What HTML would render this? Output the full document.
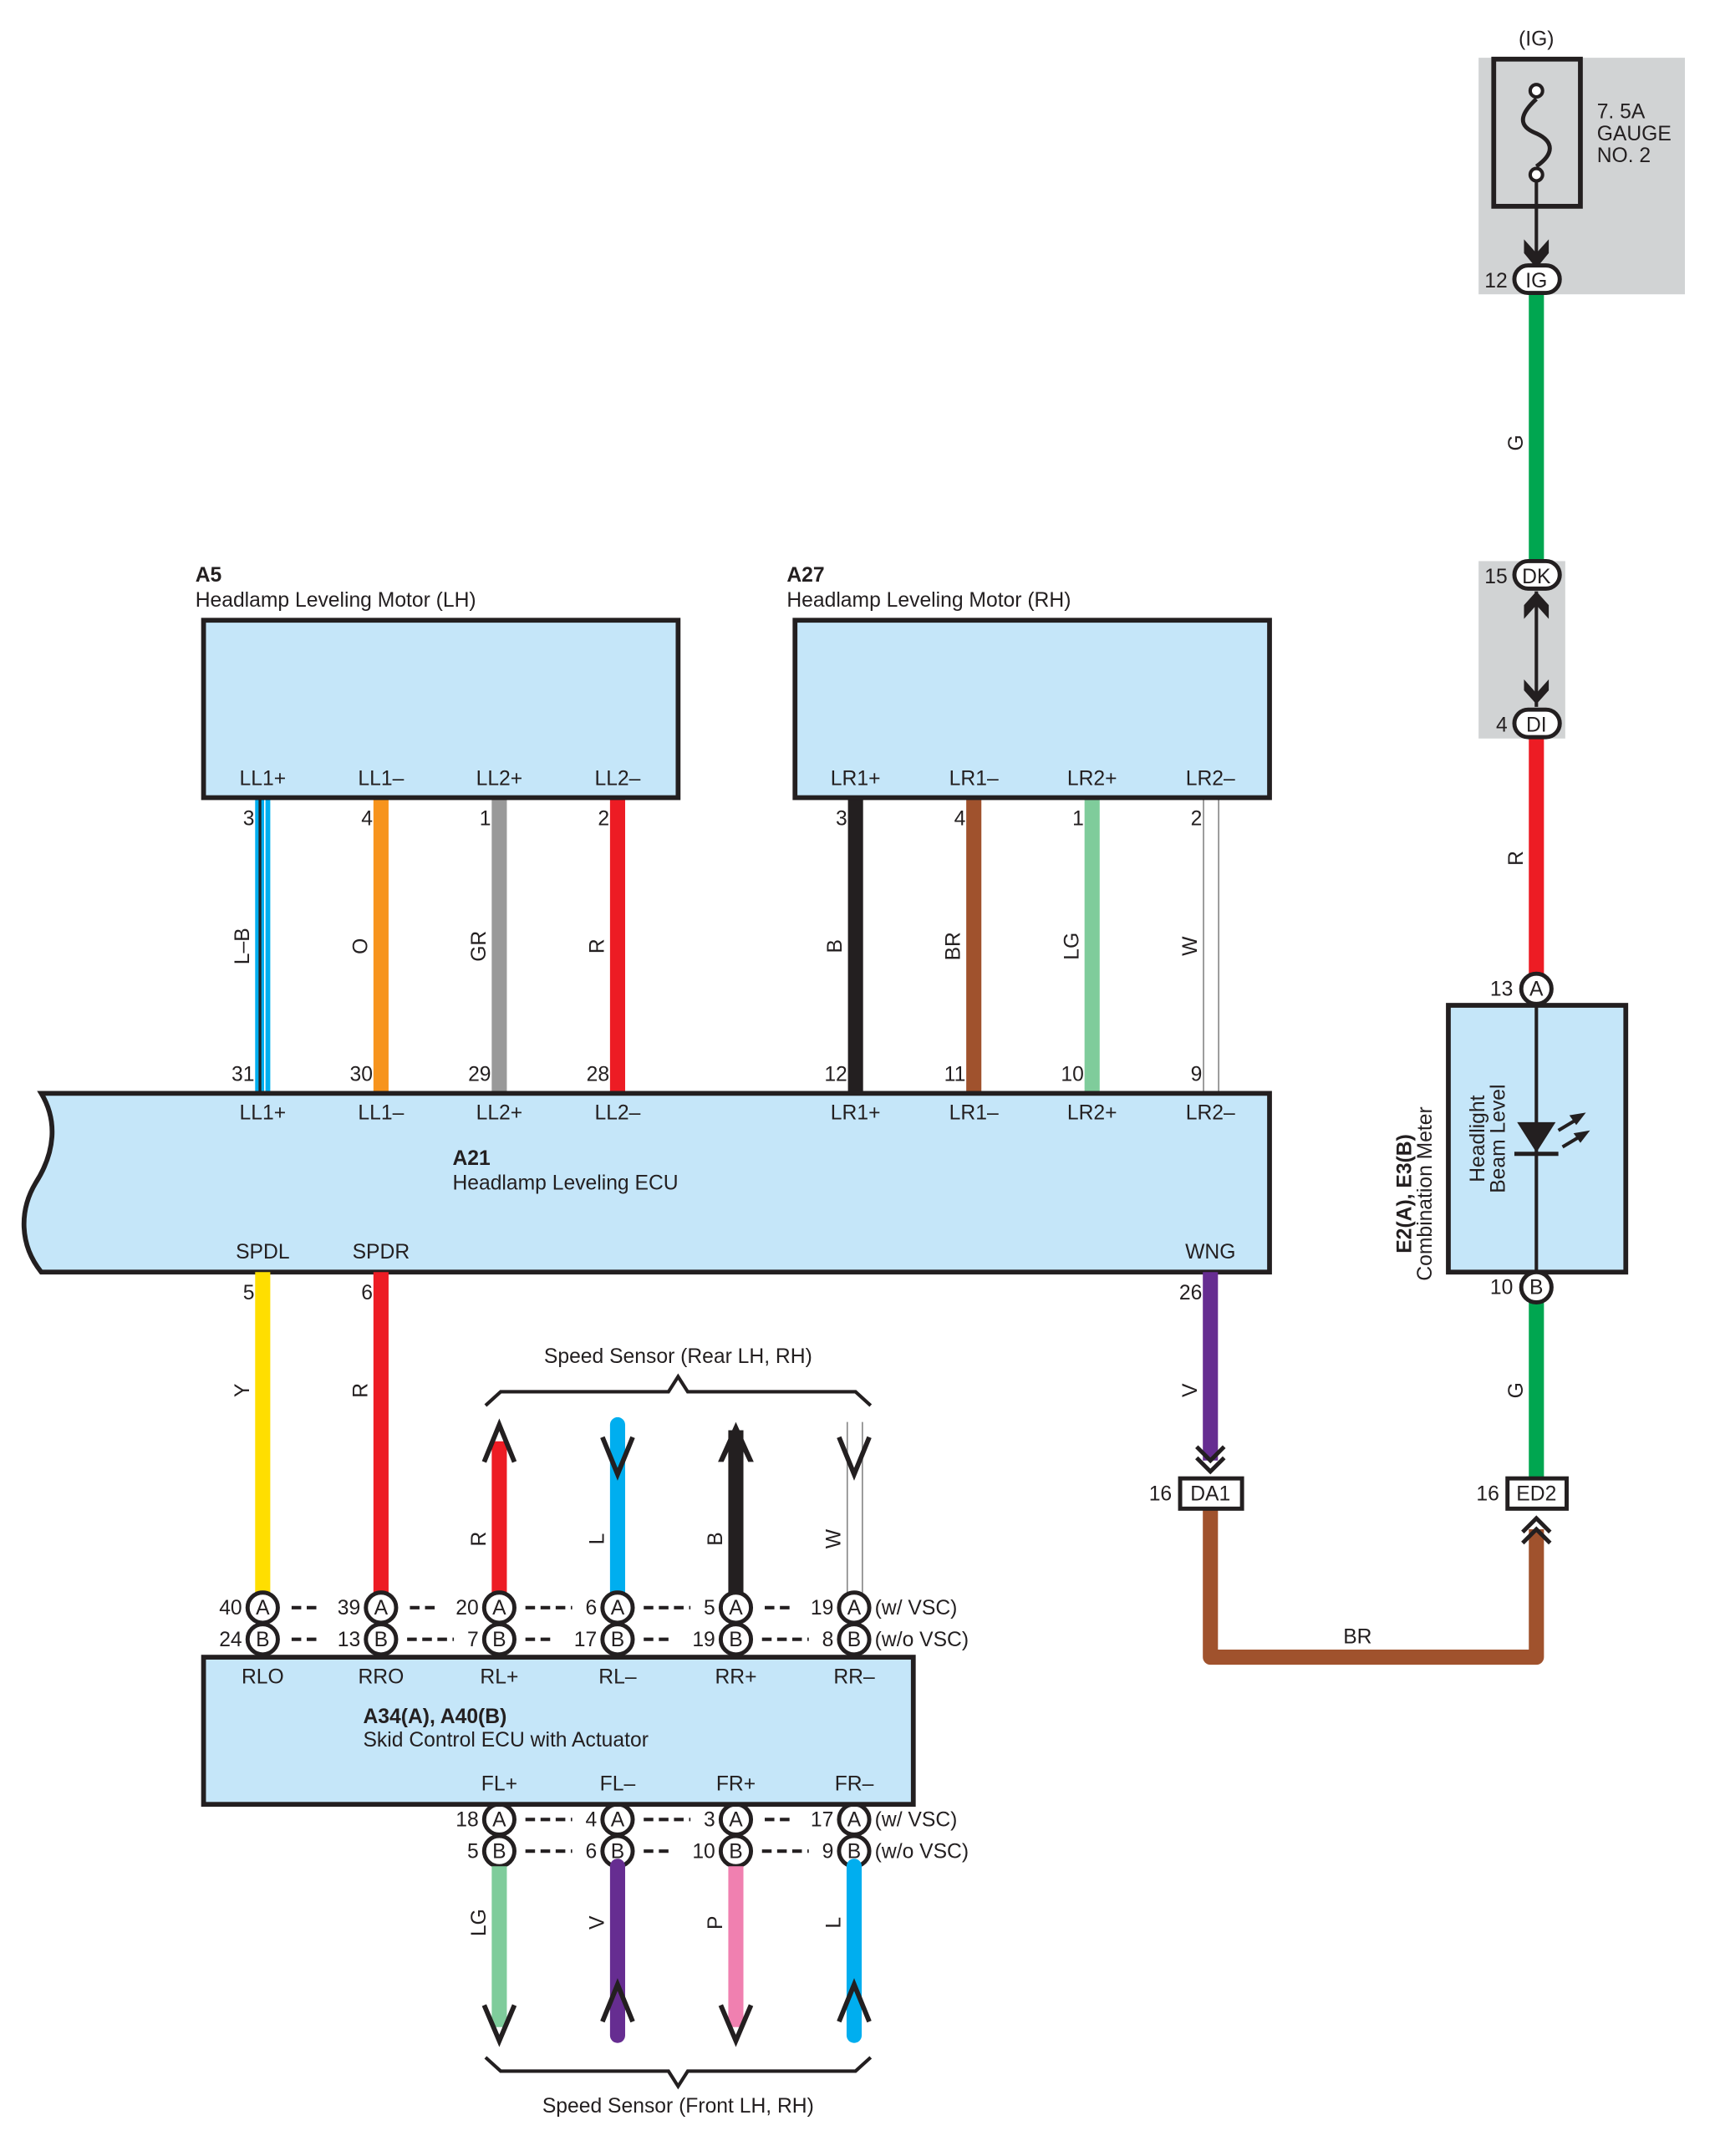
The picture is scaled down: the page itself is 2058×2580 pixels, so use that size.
<!DOCTYPE html>
<html><head><meta charset="utf-8"><style>html,body{margin:0;padding:0;background:#fff}svg{display:block}</style></head><body>
<svg width="2058" height="2580" viewBox="0 0 1250.5 1567.7" preserveAspectRatio="none" xmlns="http://www.w3.org/2000/svg" font-family="Liberation Sans, sans-serif" font-size="15" fill="#231f20">
<rect x="1075" y="42" width="150" height="172" fill="#d1d3d4"/>
<rect x="1075" y="408" width="63" height="129" fill="#d1d3d4"/>
<line x1="1117" y1="213" x2="1117" y2="408" stroke="#00a650" stroke-width="11"/>
<line x1="1117" y1="537" x2="1117" y2="708" stroke="#ed1c24" stroke-width="11"/>
<line x1="1117" y1="947" x2="1117" y2="1075" stroke="#00a650" stroke-width="11"/>
<polyline points="880,1097 880,1205 1117,1205 1117,1112" fill="none" stroke="#a0522d" stroke-width="11" stroke-linejoin="round"/>
<text x="1117" y="33" text-anchor="middle">(IG)</text>
<rect x="1086" y="43" width="63" height="107" fill="none" stroke="#231f20" stroke-width="3.5"/>
<path d="M1117,72 C1104,84 1104,92 1117,97 C1130,103 1130,112 1117,121" fill="none" stroke="#231f20" stroke-width="3"/>
<circle cx="1117" cy="66" r="4.5" fill="#fff" stroke="#231f20" stroke-width="2.5"/>
<circle cx="1117" cy="127" r="4.5" fill="#fff" stroke="#231f20" stroke-width="2.5"/>
<line x1="1117" y1="131" x2="1117" y2="190" stroke="#231f20" stroke-width="2.5"/>
<polygon points="1108,174 1117,184 1126,174 1126,184 1117,195 1108,184"/>
<text x="1161" y="86">7. 5A</text><text x="1161" y="102">GAUGE</text><text x="1161" y="118">NO. 2</text>
<rect x="1101" y="193" width="33" height="20" rx="10" fill="#fff" stroke="#231f20" stroke-width="3"/>
<text x="1117" y="209" text-anchor="middle">IG</text><text x="1096" y="209" text-anchor="end">12</text>
<text transform="translate(1107,322) rotate(-90)" text-anchor="middle">G</text>
<rect x="1101" y="408" width="33" height="20" rx="10" fill="#fff" stroke="#231f20" stroke-width="3"/>
<text x="1117" y="424" text-anchor="middle">DK</text><text x="1096" y="424" text-anchor="end">15</text>
<line x1="1117" y1="430" x2="1117" y2="514" stroke="#231f20" stroke-width="2.5"/>
<polygon points="1108,440 1117,430 1126,440 1126,450 1117,440 1108,450"/>
<polygon points="1108,502 1117,512 1126,502 1126,494 1117,504 1108,494"/>
<rect x="1101" y="516" width="33" height="20" rx="10" fill="#fff" stroke="#231f20" stroke-width="3"/>
<text x="1117" y="532" text-anchor="middle">DI</text><text x="1096" y="532" text-anchor="end">4</text>
<text transform="translate(1107,624) rotate(-90)" text-anchor="middle">R</text>
<rect x="1053" y="731" width="129" height="194" fill="#c5e6f9" stroke="#231f20" stroke-width="3.5"/>
<line x1="1117" y1="731" x2="1117" y2="925" stroke="#231f20" stroke-width="2.5"/>
<polygon points="1103,816 1131,816 1117,838"/>
<line x1="1101" y1="839" x2="1133" y2="839" stroke="#231f20" stroke-width="3"/>
<line x1="1133" y1="822" x2="1148" y2="813" stroke="#231f20" stroke-width="2.5"/><polygon points="1153,809 1141,811 1146,818"/>
<line x1="1136" y1="834" x2="1151" y2="825" stroke="#231f20" stroke-width="2.5"/><polygon points="1156,822 1144,824 1149,831"/>
<text transform="translate(1079,828) rotate(-90)" text-anchor="middle"><tspan x="0" dy="0">Headlight</tspan><tspan x="0" dy="15">Beam Level</tspan></text>
<text transform="translate(1026,868) rotate(-90)" text-anchor="middle"><tspan x="0" font-weight="bold">E2(A), E3(B)</tspan><tspan x="0" dy="15">Combination Meter</tspan></text>
<circle cx="1117" cy="719" r="11" fill="#fff" stroke="#231f20" stroke-width="3"/><text x="1117" y="724" text-anchor="middle">A</text><text x="1100" y="724" text-anchor="end">13</text>
<circle cx="1117" cy="936" r="11" fill="#fff" stroke="#231f20" stroke-width="3"/><text x="1117" y="941" text-anchor="middle">B</text><text x="1100" y="941" text-anchor="end">10</text>
<text transform="translate(1107,1011) rotate(-90)" text-anchor="middle">G</text>
<rect x="1096" y="1075" width="43" height="22" fill="#fff" stroke="#231f20" stroke-width="3"/><text x="1117" y="1091" text-anchor="middle">ED2</text><text x="1090" y="1091" text-anchor="end">16</text>
<polyline points="1107,1114 1117,1104 1127,1114" fill="none" stroke="#231f20" stroke-width="3"/>
<polyline points="1107,1122 1117,1112 1127,1122" fill="none" stroke="#231f20" stroke-width="3"/>
<text x="987" y="1195" text-anchor="middle">BR</text>
<line x1="191" y1="580" x2="191" y2="795" stroke="#00aeef" stroke-width="11"/><line x1="189" y1="580" x2="189" y2="795" stroke="#231f20" stroke-width="2"/><line x1="192.5" y1="580" x2="192.5" y2="795" stroke="#fff" stroke-width="1"/>
<line x1="277" y1="580" x2="277" y2="795" stroke="#f7941d" stroke-width="11"/>
<line x1="363" y1="580" x2="363" y2="795" stroke="#999" stroke-width="11"/>
<line x1="449" y1="580" x2="449" y2="795" stroke="#ed1c24" stroke-width="11"/>
<line x1="622" y1="580" x2="622" y2="795" stroke="#231f20" stroke-width="11"/>
<line x1="708" y1="580" x2="708" y2="795" stroke="#a0522d" stroke-width="11"/>
<line x1="794" y1="580" x2="794" y2="795" stroke="#7fcc9b" stroke-width="11"/>
<line x1="875" y1="580" x2="875" y2="795" stroke="#888" stroke-width="1"/><line x1="886" y1="580" x2="886" y2="795" stroke="#888" stroke-width="1"/>
<g text-anchor="end">
<text x="185" y="600">3</text><text x="271" y="600">4</text><text x="357" y="600">1</text><text x="443" y="600">2</text>
<text x="616" y="600">3</text><text x="702" y="600">4</text><text x="788" y="600">1</text><text x="874" y="600">2</text>
<text x="185" y="786">31</text><text x="271" y="786">30</text><text x="357" y="786">29</text><text x="443" y="786">28</text>
<text x="616" y="786">12</text><text x="702" y="786">11</text><text x="788" y="786">10</text><text x="874" y="786">9</text>
<text x="185" y="945">5</text><text x="271" y="945">6</text><text x="874" y="945">26</text>
</g>
<g text-anchor="middle">
<text transform="translate(181,688) rotate(-90)">L–B</text><text transform="translate(267,688) rotate(-90)">O</text>
<text transform="translate(353,688) rotate(-90)">GR</text><text transform="translate(439,688) rotate(-90)">R</text>
<text transform="translate(612,688) rotate(-90)">B</text><text transform="translate(698,688) rotate(-90)">BR</text>
<text transform="translate(784,688) rotate(-90)">LG</text><text transform="translate(870,688) rotate(-90)">W</text>
</g>
<rect x="148" y="451" width="345" height="129" fill="#c5e6f9" stroke="#231f20" stroke-width="3.5"/>
<rect x="578" y="451" width="345" height="129" fill="#c5e6f9" stroke="#231f20" stroke-width="3.5"/>
<text x="142" y="423" font-weight="bold">A5</text><text x="142" y="441">Headlamp Leveling Motor (LH)</text>
<text x="572" y="423" font-weight="bold">A27</text><text x="572" y="441">Headlamp Leveling Motor (RH)</text>
<g text-anchor="middle">
<text x="191" y="571">LL1+</text><text x="277" y="571">LL1–</text><text x="363" y="571">LL2+</text><text x="449" y="571">LL2–</text>
<text x="622" y="571">LR1+</text><text x="708" y="571">LR1–</text><text x="794" y="571">LR2+</text><text x="880" y="571">LR2–</text>
</g>
<path d="M30,795 L923,795 L923,925 L30,925 C14,905 14,880 26,860 C40,838 42,815 30,795 Z" fill="#c5e6f9" stroke="#231f20" stroke-width="3.5"/>
<g text-anchor="middle">
<text x="191" y="814">LL1+</text><text x="277" y="814">LL1–</text><text x="363" y="814">LL2+</text><text x="449" y="814">LL2–</text>
<text x="622" y="814">LR1+</text><text x="708" y="814">LR1–</text><text x="794" y="814">LR2+</text><text x="880" y="814">LR2–</text>
<text x="191" y="915">SPDL</text><text x="277" y="915">SPDR</text><text x="880" y="915">WNG</text>
</g>
<text x="329" y="847" font-weight="bold">A21</text><text x="329" y="865">Headlamp Leveling ECU</text>
<line x1="191" y1="925" x2="191" y2="1160" stroke="#ffde00" stroke-width="11"/>
<line x1="277" y1="925" x2="277" y2="1160" stroke="#ed1c24" stroke-width="11"/>
<line x1="880" y1="925" x2="880" y2="1062" stroke="#662d91" stroke-width="11"/>
<polyline points="870,1052 880,1062 890,1052" fill="none" stroke="#231f20" stroke-width="3"/>
<polyline points="870,1060 880,1070 890,1060" fill="none" stroke="#231f20" stroke-width="3"/>
<rect x="858" y="1075" width="45" height="22" fill="#fff" stroke="#231f20" stroke-width="3"/><text x="880" y="1091" text-anchor="middle">DA1</text><text x="852" y="1091" text-anchor="end">16</text>
<text transform="translate(870,1011) rotate(-90)" text-anchor="middle">V</text>
<text transform="translate(181,1011) rotate(-90)" text-anchor="middle">Y</text>
<text transform="translate(267,1011) rotate(-90)" text-anchor="middle">R</text>
<line x1="363" y1="1048" x2="363" y2="1160" stroke="#ed1c24" stroke-width="11"/>
<polyline points="352,1063 363,1036 374,1063" fill="none" stroke="#231f20" stroke-width="3.5"/>
<line x1="449" y1="1036" x2="449" y2="1160" stroke="#00aeef" stroke-width="11" stroke-linecap="round"/>
<polyline points="438,1045 449,1072 460,1045" fill="none" stroke="#231f20" stroke-width="3.5"/>
<line x1="535" y1="1048" x2="535" y2="1160" stroke="#231f20" stroke-width="11"/>
<polygon points="522,1063 535,1034 548,1063 544,1063 535,1044 526,1063"/>
<line x1="535" y1="1040" x2="535" y2="1060" stroke="#231f20" stroke-width="11"/>
<line x1="616" y1="1034" x2="616" y2="1160" stroke="#888" stroke-width="1"/><line x1="627" y1="1034" x2="627" y2="1160" stroke="#888" stroke-width="1"/>
<polyline points="610,1045 621,1072 632,1045" fill="none" stroke="#231f20" stroke-width="3.5"/>
<g text-anchor="middle">
<text transform="translate(353,1119) rotate(-90)">R</text><text transform="translate(439,1119) rotate(-90)">L</text>
<text transform="translate(525,1119) rotate(-90)">B</text><text transform="translate(611,1119) rotate(-90)">W</text>
</g>
<polyline points="353,1022 364,1012 486,1012 493,1001 500,1012 622,1012 633,1022" fill="none" stroke="#231f20" stroke-width="2.5"/>
<text x="493" y="991" text-anchor="middle">Speed Sensor (Rear LH,  RH)</text>
<g stroke="#231f20" stroke-width="3" fill="#fff">
<circle cx="191" cy="1169" r="11"/><circle cx="191" cy="1192" r="11"/>
<circle cx="277" cy="1169" r="11"/><circle cx="277" cy="1192" r="11"/>
<circle cx="363" cy="1169" r="11"/><circle cx="363" cy="1192" r="11"/>
<circle cx="449" cy="1169" r="11"/><circle cx="449" cy="1192" r="11"/>
<circle cx="535" cy="1169" r="11"/><circle cx="535" cy="1192" r="11"/>
<circle cx="621" cy="1169" r="11"/><circle cx="621" cy="1192" r="11"/>
<circle cx="363" cy="1323" r="11"/><circle cx="363" cy="1346" r="11"/>
<circle cx="449" cy="1323" r="11"/><circle cx="449" cy="1346" r="11"/>
<circle cx="535" cy="1323" r="11"/><circle cx="535" cy="1346" r="11"/>
<circle cx="621" cy="1323" r="11"/><circle cx="621" cy="1346" r="11"/>
</g>
<g text-anchor="middle">
<text x="191" y="1174">A</text><text x="191" y="1197">B</text><text x="277" y="1174">A</text><text x="277" y="1197">B</text>
<text x="363" y="1174">A</text><text x="363" y="1197">B</text><text x="449" y="1174">A</text><text x="449" y="1197">B</text>
<text x="535" y="1174">A</text><text x="535" y="1197">B</text><text x="621" y="1174">A</text><text x="621" y="1197">B</text>
<text x="363" y="1328">A</text><text x="363" y="1351">B</text><text x="449" y="1328">A</text><text x="449" y="1351">B</text>
<text x="535" y="1328">A</text><text x="535" y="1351">B</text><text x="621" y="1328">A</text><text x="621" y="1351">B</text>
</g>
<g text-anchor="end">
<text x="176" y="1174">40</text><text x="176" y="1197">24</text><text x="262" y="1174">39</text><text x="262" y="1197">13</text>
<text x="348" y="1174">20</text><text x="348" y="1197">7</text><text x="434" y="1174">6</text><text x="434" y="1197">17</text>
<text x="520" y="1174">5</text><text x="520" y="1197">19</text><text x="606" y="1174">19</text><text x="606" y="1197">8</text>
<text x="348" y="1328">18</text><text x="348" y="1351">5</text><text x="434" y="1328">4</text><text x="434" y="1351">6</text>
<text x="520" y="1328">3</text><text x="520" y="1351">10</text><text x="606" y="1328">17</text><text x="606" y="1351">9</text>
</g>
<text x="636" y="1174">(w/ VSC)</text><text x="636" y="1197">(w/o VSC)</text>
<text x="636" y="1328">(w/ VSC)</text><text x="636" y="1351">(w/o VSC)</text>
<g stroke="#231f20" stroke-width="2.5" stroke-dasharray="7 4">
<line x1="212" y1="1169" x2="233" y2="1169"/><line x1="212" y1="1192" x2="233" y2="1192"/>
<line x1="298" y1="1169" x2="319" y2="1169"/><line x1="296" y1="1192" x2="330" y2="1192"/>
<line x1="382" y1="1169" x2="416" y2="1169"/><line x1="382" y1="1192" x2="403" y2="1192"/>
<line x1="468" y1="1169" x2="502" y2="1169"/><line x1="468" y1="1192" x2="489" y2="1192"/>
<line x1="556" y1="1169" x2="577" y2="1169"/><line x1="554" y1="1192" x2="588" y2="1192"/>
<line x1="382" y1="1323" x2="416" y2="1323"/><line x1="382" y1="1346" x2="416" y2="1346"/>
<line x1="468" y1="1323" x2="502" y2="1323"/><line x1="468" y1="1346" x2="489" y2="1346"/>
<line x1="556" y1="1323" x2="577" y2="1323"/><line x1="554" y1="1346" x2="588" y2="1346"/>
</g>
<rect x="148" y="1205" width="516" height="107" fill="#c5e6f9" stroke="#231f20" stroke-width="3.5"/>
<g text-anchor="middle">
<text x="191" y="1224">RLO</text><text x="277" y="1224">RRO</text><text x="363" y="1224">RL+</text><text x="449" y="1224">RL–</text><text x="535" y="1224">RR+</text><text x="621" y="1224">RR–</text>
<text x="363" y="1302">FL+</text><text x="449" y="1302">FL–</text><text x="535" y="1302">FR+</text><text x="621" y="1302">FR–</text>
</g>
<text x="264" y="1253" font-weight="bold">A34(A), A40(B)</text><text x="264" y="1270">Skid Control ECU with Actuator</text>
<line x1="363" y1="1357" x2="363" y2="1474" stroke="#7fcc9b" stroke-width="11"/>
<polyline points="352,1458 363,1484 374,1458" fill="none" stroke="#231f20" stroke-width="3.5"/>
<line x1="449" y1="1357" x2="449" y2="1480" stroke="#662d91" stroke-width="11" stroke-linecap="round"/>
<polyline points="438,1470 449,1443 460,1470" fill="none" stroke="#231f20" stroke-width="3.5"/>
<line x1="535" y1="1357" x2="535" y2="1474" stroke="#f080b0" stroke-width="11"/>
<polyline points="524,1458 535,1484 546,1458" fill="none" stroke="#231f20" stroke-width="3.5"/>
<line x1="621" y1="1357" x2="621" y2="1480" stroke="#00aeef" stroke-width="11" stroke-linecap="round"/>
<polyline points="610,1470 621,1443 632,1470" fill="none" stroke="#231f20" stroke-width="3.5"/>
<g text-anchor="middle">
<text transform="translate(353,1398) rotate(-90)">LG</text><text transform="translate(439,1398) rotate(-90)">V</text>
<text transform="translate(525,1398) rotate(-90)">P</text><text transform="translate(611,1398) rotate(-90)">L</text>
</g>
<polyline points="353,1496 364,1506 486,1506 493,1517 500,1506 622,1506 633,1496" fill="none" stroke="#231f20" stroke-width="2.5"/>
<text x="493" y="1536" text-anchor="middle">Speed Sensor (Front LH,  RH)</text>
</svg>
</body></html>
